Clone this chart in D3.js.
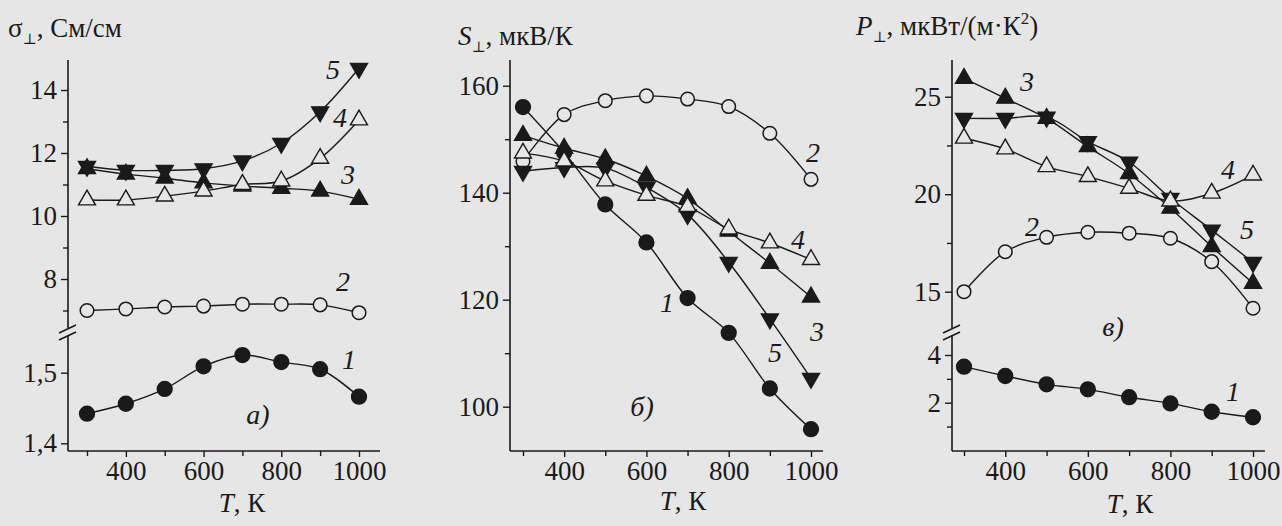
<!DOCTYPE html>
<html>
<head>
<meta charset="utf-8">
<script src="https://cdn.jsdelivr.net/npm/d3@7"></script>
<style>
  body { margin: 0; background: #e6e6e6; }
  svg { display: block; }
</style>
</head>
<body>
<script>
const temps = [300, 400, 500, 600, 700, 800, 900, 1000];

// а) conductivity, См/см
const sigma1 = [1.442, 1.456, 1.477, 1.509, 1.525, 1.515, 1.505, 1.466];
const sigma2 = [7.0, 7.05, 7.11, 7.14, 7.2, 7.2, 7.18, 6.93];
const sigma3 = [11.5, 11.33, 11.2, 11.05, 10.95, 10.88, 10.79, 10.53];
const sigma4 = [10.51, 10.51, 10.63, 10.79, 11.0, 11.11, 11.83, 13.05];
const sigma5 = [11.58, 11.45, 11.45, 11.5, 11.75, 12.31, 13.31, 14.69];

// б) Seebeck, мкВ/К
const seebeck1 = [156.0, 147.5, 137.8, 130.7, 120.3, 113.8, 103.4, 95.8];
const seebeck2 = [145.9, 154.6, 157.2, 158.1, 157.5, 156.1, 151.1, 142.5];
const seebeck3 = [150.7, 148.3, 146.3, 143.1, 138.9, 132.8, 126.8, 120.5];
const seebeck4 = [147.4, 145.9, 142.2, 139.5, 137.4, 133.2, 130.6, 127.5];
const seebeck5 = [144.0, 144.7, 144.6, 141.0, 135.9, 127.0, 116.4, 105.3];

// в) power factor, мкВт/(м·К²)
const power1 = [3.51, 3.12, 2.77, 2.56, 2.23, 1.97, 1.62, 1.39];
const power2 = [15.0, 17.05, 17.79, 18.05, 18.0, 17.74, 16.54, 14.15];
const power3 = [25.94, 24.92, 23.89, 22.44, 21.05, 19.28, 17.31, 15.43];
const power4 = [22.87, 22.32, 21.41, 20.9, 20.3, 19.65, 20.05, 20.98];
const power5 = [23.89, 23.89, 23.95, 22.7, 21.65, 19.79, 18.16, 16.5];

const xMajor = [400, 600, 800, 1000];
const xMinor = [300, 500, 700, 900];

const ink = "#1a1a1a";
const paper = "#e6e6e6";
const serif = "'Liberation Serif', 'Times New Roman', 'DejaVu Serif', serif";
const W = 1282, H = 526;

const comma = d3.formatLocale({decimal: ",", thousands: " ", grouping: [3], currency: ["", ""]});

const svg = d3.select("body").append("svg")
    .attr("width", W)
    .attr("height", H)
    .attr("font-family", serif);

svg.append("rect").attr("width", W).attr("height", H).attr("fill", paper);

const panels = [
    {
        left: 68, right: 380, xr: [87, 359], top: 60, base: 451, brk: 333,
        upper: {scale: d3.scaleLinear().domain([14, 8]).range([90, 279]), major: [14, 12, 10, 8], minor: [13, 11, 9, 7], fmt: d3.format("d")},
        lower: {scale: d3.scaleLinear().domain([1.5, 1.4]).range([372.7, 443.3]), major: [1.5, 1.4], minor: [], fmt: comma.format(".1f")},
        title: {x: 8, y: 37, main: "σ", italic: false, rest: ", См/см"},
        xlab: {x: 242, y: 512},
        series: [
            {v: sigma1, part: "lower", m: "dot"},
            {v: sigma2, part: "upper", m: "ring"},
            {v: sigma3, part: "upper", m: "up"},
            {v: sigma5, part: "upper", m: "down"},
            {v: sigma4, part: "upper", m: "upOpen"}
        ],
        labels: [["5", 333, 70], ["4", 340, 118], ["3", 348, 175], ["2", 343, 282], ["1", 349, 360], ["а)", 258, 415]]
    },
    {
        left: 510, right: 823, xr: [523, 811], top: 60, base: 451, brk: null,
        upper: {scale: d3.scaleLinear().domain([160, 100]).range([85.7, 406.7]), major: [160, 140, 120, 100], minor: [150, 130, 110], fmt: d3.format("d")},
        lower: null,
        title: {x: 458, y: 45, main: "S", italic: true, rest: ", мкВ/К"},
        xlab: {x: 683, y: 510},
        series: [
            {v: seebeck1, part: "upper", m: "dot"},
            {v: seebeck2, part: "upper", m: "ring"},
            {v: seebeck3, part: "upper", m: "up"},
            {v: seebeck5, part: "upper", m: "down"},
            {v: seebeck4, part: "upper", m: "upOpen"}
        ],
        labels: [["2", 813, 153], ["4", 798, 240], ["1", 667, 303], ["3", 817, 332], ["5", 775, 353], ["б)", 642, 407]]
    },
    {
        left: 952, right: 1265, xr: [964, 1253], top: 60, base: 451, brk: 333,
        upper: {scale: d3.scaleLinear().domain([25, 15]).range([96.7, 291.7]), major: [25, 20, 15], minor: [22.5, 17.5], fmt: d3.format("d")},
        lower: {scale: d3.scaleLinear().domain([4, 2]).range([355, 402.7]), major: [4, 2], minor: [3, 1], fmt: d3.format("d")},
        title: {x: 856, y: 35, main: "P", italic: true, rest: ", мкВт/(м·К", sup: "2", tail: ")"},
        xlab: {x: 1130, y: 513},
        series: [
            {v: power1, part: "lower", m: "dot"},
            {v: power2, part: "upper", m: "ring"},
            {v: power3, part: "upper", m: "up"},
            {v: power5, part: "upper", m: "down"},
            {v: power4, part: "upper", m: "upOpen"}
        ],
        labels: [["3", 1027, 82], ["4", 1228, 170], ["5", 1247, 230], ["2", 1032, 227], ["в)", 1113, 327], ["1", 1233, 392]]
    }
];

function drawMarker(g, type, x, y) {
    if (type === "dot" || type === "ring") {
        g.append("circle")
            .attr("cx", x).attr("cy", y)
            .attr("r", type === "dot" ? 7.4 : 6.8)
            .attr("fill", type === "dot" ? ink : paper)
            .attr("stroke", ink).attr("stroke-width", 1.5);
    } else {
        const rot = type === "down" ? 180 : 0;
        g.append("path")
            .attr("d", d3.symbol(d3.symbolTriangle, 125)())
            .attr("transform", `translate(${x},${y}) rotate(${rot})`)
            .attr("fill", type === "upOpen" ? paper : ink)
            .attr("stroke", ink).attr("stroke-width", 1.4);
    }
}

panels.forEach(p => {
    const g = svg.append("g");
    const x = d3.scaleLinear().domain([300, 1000]).range(p.xr);

    // x axis
    const xg = g.append("g").attr("transform", `translate(0,${p.base})`);
    xg.call(d3.axisBottom(x).tickValues(xMajor).tickSize(6).tickPadding(4).tickFormat(d3.format("d")));
    xg.append("g").call(d3.axisBottom(x).tickValues(xMinor).tickSize(5).tickFormat(""));
    xg.selectAll(".domain").remove();
    xg.selectAll("g").attr("font-family", serif);
    xg.attr("font-family", serif);
    xg.selectAll("line").attr("stroke", ink).attr("stroke-width", 1.4);
    xg.selectAll("text").attr("font-size", 27).attr("fill", ink);
    g.append("line")
        .attr("x1", p.left).attr("x2", p.right)
        .attr("y1", p.base).attr("y2", p.base)
        .attr("stroke", ink).attr("stroke-width", 1.6);

    // y axis (possibly broken)
    const parts = [p.upper];
    if (p.lower) parts.push(p.lower);
    parts.forEach(part => {
        const yg = g.append("g").attr("transform", `translate(${p.left},0)`);
        yg.call(d3.axisLeft(part.scale).tickValues(part.major).tickSize(7).tickPadding(4).tickFormat(part.fmt));
        if (part.minor.length) {
            yg.append("g").call(d3.axisLeft(part.scale).tickValues(part.minor).tickSize(5).tickFormat(""));
        }
        yg.selectAll(".domain").remove();
        yg.attr("font-family", serif);
        yg.selectAll("line").attr("stroke", ink).attr("stroke-width", 1.4);
        yg.selectAll("text").attr("font-size", 27).attr("fill", ink);
    });
    if (p.brk) {
        g.append("line").attr("x1", p.left).attr("x2", p.left)
            .attr("y1", p.top).attr("y2", p.brk - 5)
            .attr("stroke", ink).attr("stroke-width", 1.6);
        g.append("line").attr("x1", p.left).attr("x2", p.left)
            .attr("y1", p.brk + 2).attr("y2", p.base)
            .attr("stroke", ink).attr("stroke-width", 1.6);
        [-4, 3].forEach(dy => {
            g.append("line")
                .attr("x1", p.left - 9).attr("y1", p.brk + dy + 4)
                .attr("x2", p.left + 8).attr("y2", p.brk + dy - 4)
                .attr("stroke", ink).attr("stroke-width", 1.5);
        });
    } else {
        g.append("line").attr("x1", p.left).attr("x2", p.left)
            .attr("y1", p.top).attr("y2", p.base)
            .attr("stroke", ink).attr("stroke-width", 1.6);
    }

    // curves
    p.series.forEach(s => {
        const sc = p[s.part].scale;
        const line = d3.line()
            .x((d, i) => x(temps[i]))
            .y(d => sc(d))
            .curve(d3.curveCatmullRom.alpha(0.5));
        g.append("path")
            .attr("d", line(s.v))
            .attr("fill", "none")
            .attr("stroke", ink)
            .attr("stroke-width", 1.4);
    });
    p.series.forEach(s => {
        const sc = p[s.part].scale;
        s.v.forEach((d, i) => drawMarker(g, s.m, x(temps[i]), sc(d)));
    });

    // curve numbers and panel letter
    p.labels.forEach(([t, lx, ly]) => {
        g.append("text")
            .attr("x", lx).attr("y", ly + 9)
            .attr("text-anchor", "middle")
            .attr("font-size", 28)
            .attr("font-style", "italic")
            .attr("fill", ink)
            .text(t);
    });

    // axis titles
    const tt = g.append("text").attr("x", p.title.x).attr("y", p.title.y)
        .attr("font-size", 27).attr("fill", ink);
    tt.append("tspan").attr("font-style", p.title.italic ? "italic" : "normal").text(p.title.main);
    tt.append("tspan").attr("font-size", 15).attr("dy", 7).text("⊥");
    tt.append("tspan").attr("dy", -7).text(p.title.rest);
    if (p.title.sup) {
        tt.append("tspan").attr("font-size", 17).attr("dy", -11).text(p.title.sup);
        tt.append("tspan").attr("dy", 11).text(p.title.tail);
    }

    const xt = g.append("text")
        .attr("x", p.xlab.x).attr("y", p.xlab.y)
        .attr("text-anchor", "middle")
        .attr("font-size", 27)
        .attr("fill", ink);
    xt.append("tspan").attr("font-style", "italic").text("T");
    xt.append("tspan").text(", К");
});
</script>
</body>
</html>
